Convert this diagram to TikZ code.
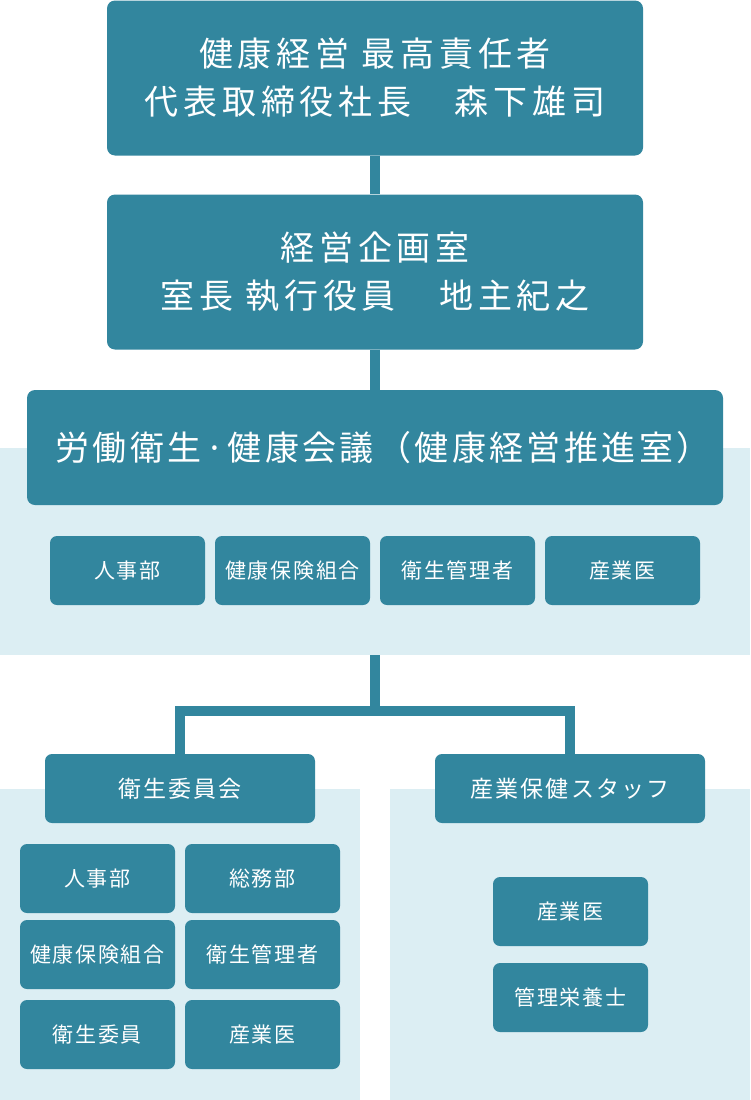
\documentclass[tikz,border=0pt]{standalone}
\usepackage{fontspec}
\setmainfont{Noto Sans CJK JP}
\newfontfamily\headfont{Noto Sans CJK JP}[LetterSpace=14]
\newfontfamily\councilfont{Noto Sans CJK JP}[LetterSpace=10]
\newfontfamily\unitfont{Noto Sans CJK JP}[LetterSpace=8]
\newfontfamily\groupfont{Noto Sans CJK JP}[LetterSpace=9]
\usepackage{xcolor}
\usetikzlibrary{positioning}
\definecolor{orgteal}{RGB}{50,134,158}
\definecolor{orglight}{RGB}{220,238,243}

\begin{document}
\begin{tikzpicture}[
    x=1pt, y=-1pt,
    box/.style={fill=orgteal, rounded corners=8pt, text=white, align=center,
                inner sep=0pt, font=\headfont\fontsize{34}{48}\selectfont},
    head/.style={box, minimum width=536pt, minimum height=155pt},
    unit/.style={box, rounded corners=7pt, minimum width=155pt, minimum height=69pt,
                 font=\unitfont\fontsize{21}{24}\selectfont},
    group/.style={unit, minimum width=270pt, font=\groupfont\fontsize{23}{26}\selectfont},
    conn/.style={draw=orgteal, line width=10pt},
    band/.style={fill=orglight}
]
  \useasboundingbox (0,0) rectangle (750,1100);

  % Backgrounds
  \fill[band] (0,448) rectangle (750,655);
  \fill[band] (0,789) rectangle (360,1100);
  \fill[band] (390,789) rectangle (750,1100);

  % Nodes
  \node[head] (chief) at (375,78)
      {健康経営 最高責任者\\代表取締役社長　森下雄司};
  \node[head] (plan) at (375,272)
      {経営企画室\\室長 執行役員　地主紀之};
  \node[head, minimum width=696pt, minimum height=115pt,
        font=\councilfont\fontsize{34}{48}\selectfont] (council) at (375,447.5)
      {\hspace*{16pt}労働衛生·健康会議（健康経営推進室）};

  \node[unit] (hr) at (127.5,570.5) {人事部};
  \node[unit] (union) at (292.5,570.5) {健康保険組合};
  \node[unit] (manager) at (457.5,570.5) {衛生管理者};
  \node[unit] (doctor) at (622.5,570.5) {産業医};

  \node[group] (committee) at (180,788.5) {衛生委員会};
  \node[group] (staff) at (570,788.5) {産業保健スタッフ};

  \node[unit] (chr) at (97.5,878.5) {人事部};
  \node[unit] (cga) at (262.5,878.5) {総務部};
  \node[unit] (cunion) at (97.5,954.5) {健康保険組合};
  \node[unit] (cmanager) at (262.5,954.5) {衛生管理者};
  \node[unit] (cmember) at (97.5,1034.5) {衛生委員};
  \node[unit] (cdoctor) at (262.5,1034.5) {産業医};

  \node[unit] (sdoctor) at (570.5,911.5) {産業医};
  \node[unit] (sdiet) at (570.5,997.5) {管理栄養士};

  % Connectors
  \coordinate (bandend) at (375,655);
  \coordinate (split) at (375,711);
  \draw[conn] (chief) -- (plan);
  \draw[conn] (plan) -- (council);
  \draw[conn] (bandend) -- (split);
  \draw[conn] (committee.north) |- (split) -| (staff.north);
\end{tikzpicture}
\end{document}
